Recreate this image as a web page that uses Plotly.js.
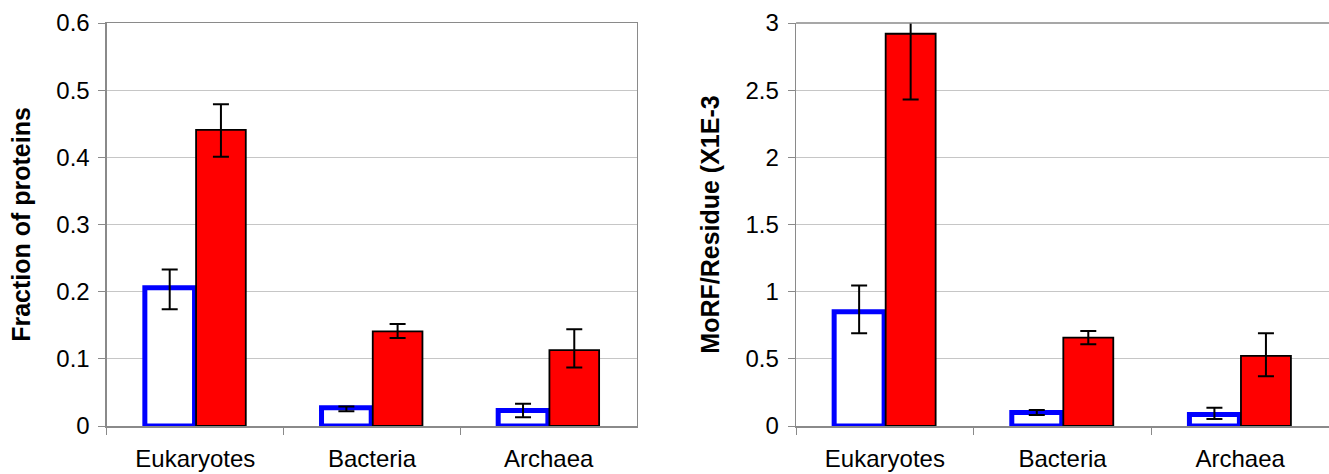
<!DOCTYPE html>
<html>
<head>
<meta charset="utf-8">
<script src="https://cdn.plot.ly/plotly-3.0.1.min.js"></script>
<style>html,body{margin:0;padding:0;background:#fff;}#chart{width:1329px;height:474px;}</style>
</head>
<body>
<div id="chart"></div>
<script>
// Categories
const categories = ["Eukaryotes", "Bacteria", "Archaea"];

// Left panel: Fraction of proteins
const fracBlue = [0.206, 0.027, 0.023];
const fracBlueErrPlus = [0.027, 0.002, 0.010];
const fracBlueErrMinus = [0.032, 0.005, 0.010];
const fracRed = [0.441, 0.141, 0.113];
const fracRedErrPlus = [0.038, 0.011, 0.031];
const fracRedErrMinus = [0.040, 0.010, 0.026];

// Right panel: MoRF/Residue (x1E-3)
const morfBlue = [0.85, 0.10, 0.086];
const morfBlueErrPlus = [0.195, 0.019, 0.050];
const morfBlueErrMinus = [0.16, 0.018, 0.034];
const morfRed = [2.92, 0.658, 0.522];
const morfRedErrPlus = [0.11, 0.05, 0.169];
const morfRedErrMinus = [0.49, 0.049, 0.152];

const leftTicks = [0, 0.1, 0.2, 0.3, 0.4, 0.5, 0.6];
const rightTicks = [0, 0.5, 1, 1.5, 2, 2.5, 3];
const rightTickText = ["0", "0.5", "1", "1.5", "2", "2.5", "3"];

const FONT = "Liberation Sans, Arial, Helvetica, sans-serif";

function errObj(plus, minus) {
  return {type: "data", symmetric: false, array: plus, arrayminus: minus,
          color: "#000", thickness: 2, width: 8};
}
function blueTrace(y, ep, em, xa, ya) {
  return {type: "bar", x: categories, y: y, xaxis: xa, yaxis: ya,
          marker: {color: "#ffffff", line: {color: "#0000ff", width: 5}},
          error_y: errObj(ep, em), hoverinfo: "none"};
}
function redTrace(y, ep, em, xa, ya) {
  return {type: "bar", x: categories, y: y, xaxis: xa, yaxis: ya,
          marker: {color: "#ff0000", line: {color: "#000000", width: 1.8}},
          error_y: errObj(ep, em), hoverinfo: "none"};
}

const data = [
  blueTrace(fracBlue, fracBlueErrPlus, fracBlueErrMinus, "x", "y"),
  redTrace(fracRed, fracRedErrPlus, fracRedErrMinus, "x", "y"),
  blueTrace(morfBlue, morfBlueErrPlus, morfBlueErrMinus, "x2", "y2"),
  redTrace(morfRed, morfRedErrPlus, morfRedErrMinus, "x2", "y2")
];

const axisLine = "#8a8a8a";
const xCommon = {
  type: "category", showline: true, linecolor: axisLine, linewidth: 1.5,
  ticks: "outside", tickson: "boundaries", ticklen: 7, tickcolor: axisLine, tickwidth: 1,
  showgrid: false, tickfont: {family: FONT, size: 24, color: "#000"},
  ticklabelstandoff: 11, fixedrange: true
};
const yCommon = {
  showline: true, linecolor: axisLine, linewidth: 1.5,
  ticks: "outside", ticklen: 7, tickcolor: axisLine, tickwidth: 1,
  showgrid: true, gridcolor: "#c6c6c6", gridwidth: 1.2, zeroline: false,
  tickfont: {family: FONT, size: 24, color: "#000"}, ticklabelstandoff: 4, fixedrange: true
};

const layout = {
  width: 1329, height: 474,
  margin: {l: 0, r: 0, t: 23, b: 48},
  paper_bgcolor: "#fff", plot_bgcolor: "#fff",
  showlegend: false, barmode: "group", bargap: 0.42, bargroupgap: 0.03,
  xaxis: Object.assign({}, xCommon, {domain: [0.0805, 0.4793], anchor: "y", mirror: true}),
  yaxis: Object.assign({}, yCommon, {anchor: "x", range: [0, 0.6], tickvals: leftTicks,
    ticktext: leftTicks.map(String), mirror: true,
    title: {text: "<b>Fraction of proteins</b>", font: {family: FONT, size: 25, color: "#000"}, standoff: 18}}),
  xaxis2: Object.assign({}, xCommon, {domain: [0.599, 1], anchor: "y2", mirror: false}),
  yaxis2: Object.assign({}, yCommon, {anchor: "x2", range: [0, 3], tickvals: rightTicks,
    ticktext: rightTickText, mirror: false,
    title: {text: "<b>MoRF/Residue (X1E-3</b>", font: {family: FONT, size: 25, color: "#000"}, standoff: 18}}),
  shapes: [
    {type: "line", xref: "x2 domain", yref: "y2 domain", x0: 0, x1: 1, y0: 1, y1: 1,
     line: {color: axisLine, width: 1.5}}
  ]
};

Plotly.newPlot("chart", data, layout, {displayModeBar: false, staticPlot: true});
</script>
</body>
</html>
